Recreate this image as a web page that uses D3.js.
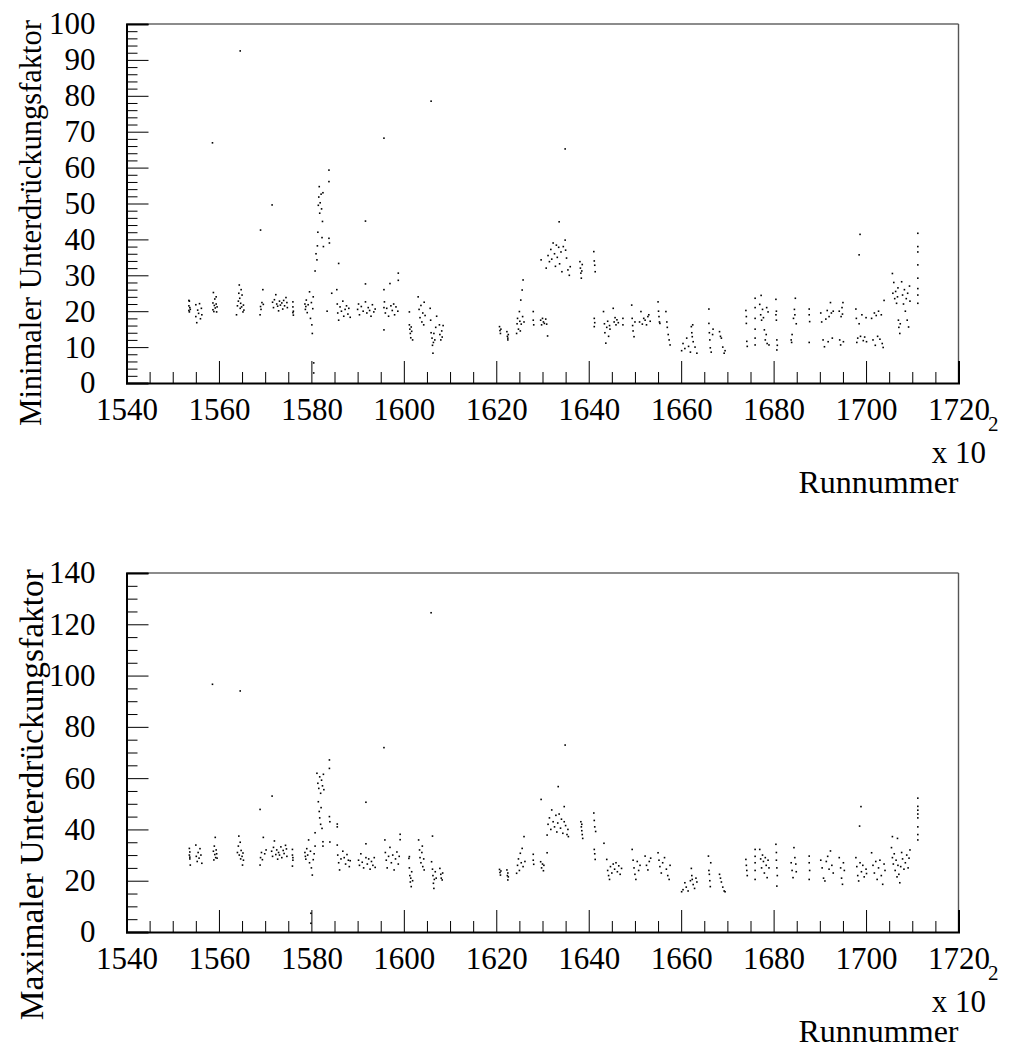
<!DOCTYPE html>
<html lang="de">
<head>
<meta charset="utf-8">
<title>Unterdrückungsfaktor vs Runnummer</title>
<script src="https://cdn.jsdelivr.net/npm/d3@7"></script>
<style>
  body { margin: 0; background: #fff; }
  svg { display: block; }
  text { font-family: "Liberation Serif", "Times New Roman", serif; fill: #000; }
</style>
</head>
<body>
<div id="chart"></div>
<script>
// run numbers are in units of 100 (axis says x 10^2)
const xTicks = [1540, 1560, 1580, 1600, 1620, 1640, 1660, 1680, 1700, 1720];
const minTicks = [0, 10, 20, 30, 40, 50, 60, 70, 80, 90, 100];
const maxTicks = [0, 20, 40, 60, 80, 100, 120, 140];

// minimaler Unterdrückungsfaktor: [run, value]
const minEarly = [
  [1553.5,21.5],[1553.5,20.2],[1553.6,22.8],[1553.6,19.8],[1553.7,21.0],[1553.8,20.5],[1553.5,23.0],
  [1555.0,21.8],[1555.0,18.5],[1555.2,16.8],[1555.4,20.3],[1555.6,19.4],[1555.8,22.1],[1556.0,17.9],[1556.2,20.8],[1556.3,19.0],
  [1558.7,22.3],[1558.7,20.4],[1558.8,25.2],[1558.9,19.9],[1559.0,21.6],[1559.1,23.4],[1559.2,20.9],[1559.4,22.0],[1559.5,19.8],[1559.6,21.2],[1559.4,24.0],
  [1558.6,66.9],[1564.6,92.5],
  [1563.8,19.0],[1564.0,21.5],[1564.2,22.8],[1564.3,25.0],[1564.4,27.3],[1564.5,23.6],[1564.6,20.8],[1564.7,22.2],[1564.9,21.2],[1565.0,24.5],[1565.2,19.8],[1565.3,21.7],[1565.4,20.3],[1564.8,26.0],
  [1569.0,42.6],
  [1568.9,19.0],[1569.0,21.3],[1569.1,20.5],[1569.3,22.4],[1569.5,26.0],[1569.6,21.9],
  [1571.5,49.6],
  [1571.6,22.5],[1571.8,21.0],[1572.0,23.2],[1572.3,24.6],[1572.5,22.0],[1572.7,21.4],[1572.9,20.1],[1573.1,22.8],[1573.3,21.7],[1573.6,22.3],[1573.8,20.6],[1574.0,23.0],[1574.2,21.5],[1574.5,23.8],[1574.7,22.4],[1574.8,21.0],
  [1576.0,22.6],[1576.0,21.2],[1576.1,20.0],[1576.1,18.9],[1576.0,19.6],
  [1578.6,22.0],[1578.7,20.5],[1578.8,21.3],[1578.9,23.1],[1579.1,19.6],[1579.3,21.8],[1579.6,25.4],[1579.8,18.0],[1580.0,22.4],[1580.1,16.2],[1580.2,13.8],[1580.3,20.7],[1580.4,24.0],
  [1580.5,5.6],[1580.5,2.8],
  [1580.8,31.2],[1581.0,36.0],[1581.2,34.3],[1581.3,38.2],[1581.4,42.0],[1581.5,49.5],[1581.6,51.8],[1581.7,54.7],[1581.8,47.3],[1581.9,50.2],[1582.1,52.6],[1582.2,48.5],[1582.3,40.5],[1582.4,45.0],[1582.5,53.0],[1582.6,38.0],
  [1583.8,59.3],[1583.8,56.1],[1583.8,40.3],[1583.9,39.0],[1584.4,25.0],[1583.4,20.0],[1585.9,33.3],
  [1585.5,26.0],[1585.6,22.0],[1585.7,19.5],[1585.9,17.5],[1586.2,21.2],[1586.5,20.0],[1586.8,22.8],[1587.0,18.6],[1587.3,20.5],[1587.6,21.5],[1587.9,19.2],[1588.1,20.8],[1588.4,18.3],
  [1590.0,20.5],[1590.2,22.0],[1590.4,19.0],[1590.8,21.3],[1591.2,20.0],[1591.7,22.6],[1591.7,27.6],[1592.0,19.5],[1592.3,21.0],[1592.6,20.2],[1592.9,18.6],[1593.2,21.8],[1593.5,19.8],[1593.8,20.6],
  [1591.7,45.1],[1595.7,68.2],
  [1595.7,26.0],[1595.7,14.8],[1595.7,21.0],[1595.8,22.6],[1596.0,19.5],[1596.3,20.8],[1596.7,18.6],[1597.0,27.7],[1597.2,21.5],[1597.5,20.2],[1597.8,22.0],[1598.0,19.0],[1598.3,21.2],[1598.7,20.0],[1598.8,30.6],[1598.8,28.6],
  [1601.2,19.8],[1601.2,16.2],[1601.3,15.0],[1601.4,13.8],[1601.5,12.6],[1601.7,14.4],[1601.9,12.0],[1601.6,15.6],
  [1603.1,24.0],[1603.3,20.5],[1603.5,18.2],[1603.7,21.6],[1603.9,17.0],[1604.1,19.5],[1604.3,16.2],[1604.6,18.8],[1604.4,22.5],
  [1605.9,78.5],
  [1605.7,20.8],[1605.8,17.5],[1605.9,14.0],[1606.1,12.5],[1606.2,10.5],[1606.3,8.3],[1606.4,11.3],[1606.5,13.8],[1606.7,12.0],[1606.9,15.5],[1607.1,18.6],
  [1607.7,16.2],[1607.8,13.5],[1608.0,12.0],[1608.2,14.5],[1608.3,12.8],[1608.5,16.0]
];
const minMid = [
  [1620.7,15.7],[1620.8,14.6],[1620.9,13.8],[1621.0,15.0],
  [1622.3,14.3],[1622.4,13.0],[1622.5,12.0],[1622.6,13.5],[1622.5,12.5],
  [1624.4,13.8],[1624.5,16.5],[1624.6,18.0],[1624.8,15.0],[1625.0,19.9],[1625.1,17.2],[1625.3,23.1],[1625.4,16.4],[1625.6,25.9],[1625.7,18.5],[1625.8,28.7],[1626.0,17.0],[1625.2,14.5],
  [1628.0,19.9],[1628.0,17.5],[1628.1,16.2],
  [1629.6,17.5],[1629.8,16.2],[1630.0,18.0],[1630.2,17.0],[1630.4,16.6],[1630.7,17.8],[1630.9,16.4],
  [1631.1,13.1],[1629.7,34.3],
  [1630.8,32.0],[1631.2,35.5],[1631.5,33.8],[1631.8,37.2],[1632.0,34.5],[1632.3,39.0],[1632.6,36.0],[1632.8,32.5],[1633.0,38.4],[1633.2,35.0],[1633.5,37.8],[1633.7,33.2],[1634.0,36.5],[1634.2,31.0],[1634.5,38.0],[1634.9,39.8],[1635.0,37.0],[1635.2,34.8],[1635.5,31.5],[1635.8,30.0],[1636.0,32.4],
  [1633.6,44.9],[1634.9,65.2],
  [1638.1,33.8],[1638.2,32.0],[1638.3,30.6],[1638.4,29.2],[1638.6,33.0],[1638.5,31.2],
  [1641.1,36.6],[1641.2,34.0],[1641.3,32.8],[1641.4,31.0],[1641.2,18.0],[1641.3,16.8],[1641.2,15.7],
  [1643.2,19.9],[1643.4,16.5],[1643.5,14.0],[1643.7,11.1],[1643.9,15.5],[1644.1,17.2],[1644.3,13.0],[1644.5,16.0],[1644.6,15.0],
  [1645.3,20.8],[1645.5,17.0],[1645.7,18.2],[1645.9,16.2],[1646.1,17.6],[1646.4,16.8],
  [1647.4,18.0],[1647.4,16.2],
  [1649.3,21.7],[1649.4,18.0],[1649.5,16.0],[1649.6,14.5],[1649.8,12.9],[1650.0,17.0],
  [1651.0,17.0],[1651.3,19.9],[1651.6,16.4],[1651.9,18.0],[1652.2,17.5],[1652.5,16.2],[1652.8,18.5],[1653.0,19.0],[1653.3,17.2],
  [1655.0,22.6],[1655.1,20.0],[1655.2,18.5],[1655.3,17.0],[1655.4,16.6],
  [1656.7,19.9],[1656.9,17.0],[1657.0,15.5],[1657.2,13.5],[1657.4,12.0],[1657.6,10.6]
];
const minLate = [
  [1660.1,9.0],[1660.4,11.0],[1660.8,9.6],[1661.2,12.5],[1661.6,10.2],[1662.0,8.6],[1662.2,15.7],[1662.3,14.0],[1662.4,12.9],[1662.6,11.5],[1663.0,10.0],[1663.4,8.3],[1662.5,16.2],
  [1666.0,20.6],
  [1666.0,16.6],[1666.1,14.0],[1666.2,12.0],[1666.3,9.8],[1666.5,8.6],[1666.9,15.0],[1666.8,13.5],
  [1668.3,14.3],[1668.5,13.0],[1668.7,12.5],[1669.0,10.0],[1669.3,8.3],[1669.5,9.0],
  [1674.0,20.2],[1674.1,18.5],[1674.1,16.6],[1674.2,11.6],[1674.3,10.2],
  [1676.0,23.6],[1676.0,21.0],[1676.0,18.0],[1676.0,15.0],[1676.0,12.5],[1676.0,10.6],
  [1677.3,24.4],
  [1677.0,21.9],[1677.2,19.0],[1677.4,17.5],[1677.6,20.5],[1677.8,18.2],[1678.0,14.8],[1678.2,12.0],[1678.4,13.5],[1678.6,11.0],[1678.8,19.8],[1679.0,10.6],[1678.5,21.0],
  [1680.5,23.3],[1680.6,20.0],[1680.6,17.5],[1680.7,12.0],[1680.8,10.5],[1680.7,9.2],[1680.5,19.0],
  [1683.8,12.0],[1683.9,11.3],[1684.0,13.5],[1684.3,18.0],[1684.5,20.5],[1684.7,23.6],[1684.9,16.5],[1684.6,19.0],
  [1687.7,20.6],[1687.7,19.0],[1687.8,17.1],[1687.7,11.3],
  [1690.2,19.5],[1690.4,17.0],[1690.7,12.0],[1691.0,10.1],[1691.3,17.8],[1691.6,20.2],[1691.8,11.5],[1692.0,18.5],[1692.3,22.4],[1692.5,19.5],[1692.7,12.5],[1692.9,20.0],
  [1694.2,20.0],[1694.3,12.0],[1694.5,10.6],[1694.6,18.5],[1694.8,21.0],[1695.0,22.4],[1695.1,11.5],[1694.9,19.2],
  [1698.7,41.4],[1698.5,35.7],
  [1697.8,20.6],[1697.9,18.0],[1698.0,11.3],[1698.2,12.5],[1698.5,16.5],[1698.8,13.0],[1699.1,19.0],[1699.4,11.8],[1699.7,12.8],[1700.0,18.2],[1700.1,11.5],
  [1701.2,18.0],[1701.5,12.0],[1701.8,19.5],[1702.0,10.5],[1702.2,18.8],[1702.5,13.0],[1702.7,20.0],[1703.0,12.2],[1703.3,19.0],[1703.5,11.0],[1703.9,23.0],[1703.7,9.9],
  [1705.7,30.5],[1705.8,25.0],[1706.0,28.0],[1706.2,23.5],[1706.4,25.5],[1706.6,22.2],[1706.8,24.0],[1707.0,17.5],[1707.1,15.5],[1707.3,13.8],[1707.4,16.5],[1706.9,26.5],
  [1707.7,28.2],[1707.9,24.5],[1708.1,22.0],[1708.3,26.0],[1708.5,20.0],[1708.7,23.5],[1708.9,17.5],[1709.0,25.0],[1709.2,15.6],[1709.4,27.0],[1709.5,22.8],
  [1711.2,41.7],[1711.2,38.0],[1711.2,36.5],[1711.2,32.9],[1711.2,29.2],[1711.2,26.3],[1711.2,24.5],[1711.2,22.2]
];

// maximaler Unterdrückungsfaktor: [run, value]
const maxEarly = [
  [1553.6,32.6],[1553.6,30.0],[1553.7,28.5],[1553.7,31.2],[1553.8,26.1],[1553.7,29.2],
  [1555.0,33.9],[1555.1,29.5],[1555.3,27.5],[1555.5,31.0],[1555.7,28.8],[1555.9,32.5],[1556.1,30.0],[1556.3,26.8],
  [1558.8,31.5],[1558.9,28.1],[1559.0,33.5],[1559.1,30.2],[1559.2,36.9],[1559.3,29.0],[1559.4,32.0],[1559.5,30.5],[1559.6,28.8],
  [1558.6,96.6],[1564.6,94.0],
  [1564.0,31.0],[1564.2,33.5],[1564.3,37.4],[1564.4,30.0],[1564.6,35.0],[1564.7,28.5],[1564.8,31.8],[1565.0,29.5],[1565.1,26.1],[1565.2,30.8],[1565.3,28.0],
  [1568.9,47.8],
  [1568.9,26.1],[1569.0,29.0],[1569.2,31.0],[1569.4,28.2],[1569.6,36.9],[1569.9,30.5],[1570.2,32.0],
  [1571.5,53.0],
  [1571.4,31.5],[1571.6,29.5],[1571.8,33.0],[1572.0,35.5],[1572.3,30.2],[1572.5,32.0],[1572.7,28.4],[1572.9,31.0],[1573.1,30.0],[1573.4,33.2],[1573.6,29.0],[1573.9,31.8],[1574.1,30.6],[1574.4,33.8],[1574.6,32.4],[1574.7,29.5],
  [1575.9,32.2],[1575.9,30.0],[1576.0,28.0],[1575.9,25.7],[1576.0,29.0],
  [1578.6,31.0],[1578.7,29.5],[1578.8,28.4],[1579.0,32.5],[1579.2,30.0],[1579.4,35.9],[1579.6,27.0],[1579.8,31.5],[1580.0,25.0],[1580.2,22.2],[1580.4,28.2],[1580.6,30.5],[1580.8,33.5],
  [1579.9,7.3],[1579.9,3.4],[1580.8,38.7],
  [1581.2,61.9],[1581.4,58.0],[1581.6,56.0],[1581.8,60.5],[1582.0,54.1],[1582.2,59.2],[1582.4,57.0],[1582.6,61.5],[1582.7,55.5],
  [1581.5,50.8],[1581.7,47.0],[1581.8,44.5],[1582.0,42.0],[1582.1,48.5],[1582.3,40.4],
  [1583.9,67.1],[1583.9,63.8],[1583.9,45.0],[1584.0,43.0],[1582.5,35.2],[1582.5,33.5],[1584.0,35.1],
  [1585.6,42.1],[1585.6,41.0],
  [1585.6,33.9],[1585.7,30.0],[1585.9,27.0],[1586.1,24.2],[1586.4,28.5],[1586.8,31.5],[1587.1,29.0],[1587.4,26.5],[1587.7,30.2],[1588.0,28.0],[1588.2,25.5],[1588.4,27.8],
  [1590.2,28.0],[1590.4,26.0],[1590.7,30.5],[1591.0,27.2],[1591.3,25.0],[1591.8,34.4],[1591.8,29.0],[1592.1,26.5],[1592.4,28.5],[1592.7,24.5],[1593.0,27.5],[1593.3,26.0],[1593.6,29.0],[1593.8,25.2],
  [1591.8,50.6],[1595.7,71.9],
  [1595.9,35.9],[1596.0,31.0],[1596.2,28.0],[1596.4,25.0],[1596.7,29.5],[1597.0,33.0],[1597.3,27.0],[1597.6,30.0],[1597.9,24.2],[1598.2,28.5],[1598.5,31.2],[1598.8,26.5],[1599.0,29.5],[1599.2,38.1],[1599.2,36.0],
  [1601.1,28.7],[1601.2,25.0],[1601.3,22.0],[1601.4,19.5],[1601.5,21.0],[1601.6,17.7],[1601.7,23.5],[1601.9,20.0],[1601.2,29.4],
  [1603.2,35.9],[1603.4,32.0],[1603.5,29.0],[1603.7,27.0],[1603.9,31.0],[1604.1,25.5],[1604.3,28.5],[1604.4,24.2],[1604.0,33.5],
  [1605.9,124.5],[1606.2,37.4],
  [1606.0,27.4],[1606.2,24.5],[1606.3,22.0],[1606.4,19.0],[1606.5,17.0],[1606.6,20.5],[1606.8,23.5],[1607.0,21.0],
  [1607.8,24.8],[1608.0,22.5],[1608.1,21.0],[1608.3,20.3],[1608.4,23.0]
];
const maxMid = [
  [1620.7,24.4],[1620.8,23.2],[1620.9,22.2],[1621.0,23.8],
  [1622.3,24.2],[1622.4,22.0],[1622.5,20.3],[1622.6,21.5],[1622.5,23.0],
  [1624.4,22.9],[1624.6,26.0],[1624.8,28.5],[1625.0,24.0],[1625.2,30.7],[1625.4,27.0],[1625.6,32.6],[1625.8,25.5],[1626.0,37.2],[1626.2,27.5],
  [1628.0,30.3],[1628.0,28.0],[1628.1,26.4],
  [1629.6,27.4],[1629.8,25.0],[1630.0,26.5],[1630.2,23.9],[1630.3,26.0],
  [1629.7,51.7],[1631.0,30.9],[1631.0,37.8],
  [1631.2,42.0],[1631.5,44.5],[1631.8,40.0],[1632.0,47.6],[1632.3,43.0],[1632.6,41.0],[1632.9,45.5],[1633.1,39.0],[1633.3,42.5],[1633.6,46.0],[1633.9,40.5],[1634.1,44.0],[1634.4,38.5],[1634.7,48.9],[1634.7,43.0],[1635.0,41.5],[1635.3,38.0],[1635.6,37.2],[1635.5,40.0],
  [1633.4,56.7],[1634.9,72.9],
  [1638.3,43.0],[1638.4,41.0],[1638.5,39.5],[1638.6,38.0],[1638.7,36.5],[1638.5,42.0],
  [1641.1,46.4],[1641.2,43.5],[1641.3,41.0],[1641.5,39.2],[1641.2,32.2],[1641.3,30.5],[1641.4,28.3],
  [1643.3,34.6],
  [1643.9,28.3],[1644.1,24.0],[1644.3,22.0],[1644.5,20.5],[1644.7,25.5],[1645.0,23.0],[1645.3,26.5],[1645.6,24.5],[1645.9,27.0],[1646.2,23.5],[1646.5,25.8],[1646.8,22.5],[1647.1,24.8],
  [1649.4,32.2],[1649.6,28.0],[1649.8,25.0],[1650.0,22.5],[1650.2,20.5],[1650.5,27.5],[1650.8,24.0],[1651.1,26.0],
  [1652.2,29.6],[1652.5,26.0],[1652.8,24.2],[1653.1,27.5],[1653.4,28.8],
  [1655.0,30.9],[1655.2,28.0],[1655.4,25.5],[1655.7,23.0],[1656.0,27.0],[1656.4,29.0],[1656.8,24.5],[1657.1,22.0],[1657.4,20.5],[1657.6,26.0]
];
const maxLate = [
  [1660.1,15.7],[1660.4,16.5],[1660.8,19.2],[1661.1,17.5],[1661.5,16.0],[1662.0,20.0],[1662.2,24.8],[1662.3,22.0],[1662.4,20.5],[1662.6,18.5],[1662.9,17.0],[1663.2,21.0],[1663.4,19.5],
  [1665.9,29.6],[1666.0,24.0],[1666.1,22.5],[1666.2,20.0],[1666.3,17.7],[1666.4,27.0],
  [1668.3,22.5],[1668.5,21.0],[1668.7,19.5],[1669.0,17.5],[1669.3,16.0],[1669.5,15.7],
  [1674.0,28.3],[1674.1,26.0],[1674.2,24.0],[1674.3,22.0],
  [1676.0,32.2],[1676.0,29.5],[1676.0,27.0],[1676.0,24.0],[1676.0,20.5],
  [1677.0,32.2],[1677.2,28.5],[1677.4,25.0],[1677.6,30.0],[1677.8,27.5],[1678.0,23.0],[1678.2,29.0],[1678.4,26.0],[1678.6,21.2],[1678.8,28.0],[1679.0,25.0],
  [1680.5,34.2],[1680.6,31.0],[1680.6,28.0],[1680.7,25.0],[1680.8,22.0],[1680.7,17.9],
  [1683.8,27.0],[1684.0,24.0],[1684.2,21.2],[1684.4,32.9],[1684.6,29.0],[1684.8,26.5],[1684.9,23.5],
  [1687.7,29.6],[1687.7,27.0],[1687.8,24.0],[1687.7,20.5],
  [1690.2,28.0],[1690.5,25.0],[1690.8,21.0],[1691.1,19.9],[1691.4,27.5],[1691.7,29.5],[1692.0,24.5],[1692.3,31.6],[1692.6,26.0],[1692.9,23.0],
  [1694.2,29.0],[1694.5,25.0],[1694.7,21.0],[1694.9,18.6],[1695.1,27.0],[1695.3,24.0],
  [1698.9,48.9],[1698.6,41.3],
  [1697.8,29.0],[1698.0,25.5],[1698.2,22.0],[1698.4,19.9],[1698.7,27.0],[1699.0,23.5],[1699.3,26.0],[1699.6,21.5],[1700.0,24.5],[1700.1,22.8],
  [1701.2,30.9],[1701.5,26.0],[1701.8,23.0],[1702.1,27.5],[1702.4,20.5],[1702.7,25.0],[1703.0,28.0],[1703.3,22.0],[1703.6,18.6],[1703.9,26.5],[1704.1,24.0],
  [1705.7,37.2],[1706.8,36.5],
  [1705.5,32.9],[1705.7,29.0],[1705.9,26.5],[1706.1,30.5],[1706.3,24.0],[1706.5,28.0],[1706.7,21.5],[1706.9,26.0],[1707.1,22.5],[1707.3,19.2],[1707.5,25.5],[1707.7,31.0],[1707.9,28.5],[1708.2,24.5],[1708.5,27.0],[1708.8,30.0],[1709.1,25.0],[1709.3,28.8],[1709.5,32.0],
  [1711.2,52.2],[1711.2,49.0],[1711.2,47.5],[1711.2,46.0],[1711.2,44.5],[1711.2,41.0],[1711.2,38.0],[1711.2,35.9]
];

const width = 1009;
const height = 1048;
const left = 126.5, right = 958.5;

const svg = d3.select("#chart").append("svg")
  .attr("width", width)
  .attr("height", height);

svg.append("rect").attr("width", width).attr("height", height).attr("fill", "#fff");

const x = d3.scaleLinear().domain([1540, 1720]).range([left, right]);

function minorOf(lo, hi, step, majorStep) {
  // minor tick values between majors
  return d3.range(lo, hi + 0.001, step).filter(v => Math.abs(v / majorStep - Math.round(v / majorStep)) > 1e-6);
}

function panel(top, bottom, yMax, majors, minorStep, majorStep, points, title, titleSize, titleX) {
  const y = d3.scaleLinear().domain([0, yMax]).range([bottom, top]);
  const g = svg.append("g");

  // frame: top and right are thin grey, axes black
  g.append("line").attr("x1", left).attr("x2", right).attr("y1", top).attr("y2", top)
    .attr("stroke", "#666").attr("stroke-width", 1.4);
  g.append("line").attr("x1", right).attr("x2", right).attr("y1", top).attr("y2", bottom)
    .attr("stroke", "#555").attr("stroke-width", 1.4);

  // y axis
  const yAxis = g.append("g").attr("transform", `translate(${left},0)`)
    .call(d3.axisLeft(y).tickValues(majors).tickSize(-22).tickPadding(31).tickFormat(d3.format("d")));
  g.append("g").attr("transform", `translate(${left},0)`)
    .call(d3.axisLeft(y).tickValues(minorOf(0, yMax, minorStep, majorStep)).tickSize(-11).tickFormat(""))
    .call(a => a.select(".domain").remove());

  // x axis
  const xAxis = g.append("g").attr("transform", `translate(0,${bottom})`)
    .call(d3.axisBottom(x).tickValues(xTicks).tickSize(-22).tickPadding(15).tickFormat(d3.format("d")));
  g.append("g").attr("transform", `translate(0,${bottom})`)
    .call(d3.axisBottom(x).tickValues(minorOf(1540, 1720, 5, 20)).tickSize(-11).tickFormat(""))
    .call(a => a.select(".domain").remove());

  [yAxis, xAxis].forEach(a => {
    a.select(".domain").attr("stroke", "#000").attr("stroke-width", 2);
    a.selectAll("text").style("font-size", "31px").style("font-family", "'Liberation Serif', serif");
  });
  g.selectAll(".tick line").attr("stroke", "#000").attr("stroke-width", 1);

  // data points
  g.append("g").selectAll("rect")
    .data(points)
    .join("rect")
    .attr("x", d => x(d[0]) - 0.8)
    .attr("y", d => y(d[1]) - 0.8)
    .attr("width", 1.6)
    .attr("height", 1.6)
    .attr("fill", "#000");

  // axis titles
  g.append("text")
    .attr("transform", `translate(${titleX},${top - 4}) rotate(-90)`)
    .attr("text-anchor", "end")
    .style("font-size", titleSize + "px")
    .text(title);

  g.append("text")
    .attr("x", 986).attr("y", bottom + 80)
    .attr("text-anchor", "end")
    .style("font-size", "31px")
    .text("x 10");
  g.append("text")
    .attr("x", 988).attr("y", bottom + 48)
    .style("font-size", "21px")
    .text("2");
  g.append("text")
    .attr("x", right).attr("y", bottom + 110)
    .attr("text-anchor", "end")
    .style("font-size", "32px")
    .text("Runnummer");
}

panel(24, 383, 100, minTicks, 2, 10, minEarly.concat(minMid, minLate), "Minimaler Unterdrückungsfaktor", 30.5, 41);
panel(573, 932, 140, maxTicks, 5, 20, maxEarly.concat(maxMid, maxLate), "Maximaler Unterdrückungsfaktor", 33.5, 43);
</script>
</body>
</html>
